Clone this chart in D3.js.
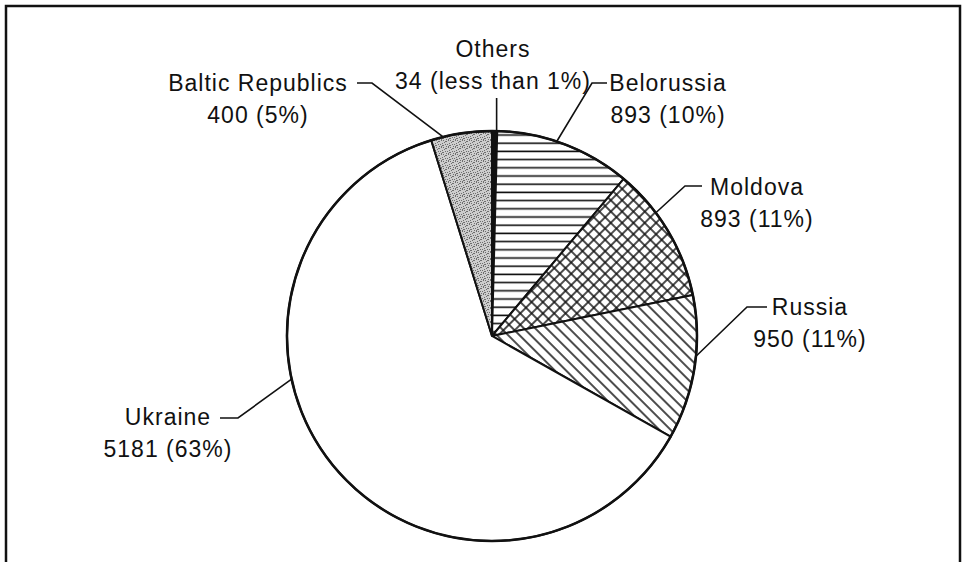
<!DOCTYPE html>
<html>
<head>
<meta charset="utf-8">
<script src="https://cdn.jsdelivr.net/npm/d3@7"></script>
<style>
  body { margin: 0; background: #fff; }
  svg { display: block; }
  .lbl { font-family: "Liberation Sans", Arial, sans-serif; font-size: 23px; letter-spacing: 1px; fill: #111; }
</style>
</head>
<body>
<div id="container"></div>
<script>
// data, clockwise from 12 o'clock
const categories = ['Others', 'Belorussia', 'Moldova', 'Russia', 'Ukraine', 'Baltic Republics']
const values = [34, 893, 893, 950, 5181, 400]
const valueLabels = ['34 (less than 1%)', '893 (10%)', '893 (11%)', '950 (11%)', '5181 (63%)', '400 (5%)']
const patterns = ['solid', 'hlines', 'cross', 'diag', 'none', 'stipple']

// where each label sits (text centre, first baseline), the little dash and where on the slice the leader lands
const labelLayout = [
  {x: 493, y: 57, dash: null, f: 0.5},
  {x: 668, y: 91, dash: [592, 607, 83], f: 0.44},
  {x: 757, y: 195, dash: [685, 702, 186], f: 0.34},
  {x: 810, y: 315, dash: [747, 767, 307], f: 0.42},
  {x: 168, y: 425, dash: [238, 220, 418], f: 0.62},
  {x: 258, y: 91, dash: [372, 357, 83], f: 0.2}
]

const width = 965
const height = 562
const cx = 492, cy = 336, radius = 205

const svg = d3.select('#container').append('svg')
  .attr('width', width)
  .attr('height', height)

svg.append('rect').attr('width', width).attr('height', height).attr('fill', '#fff')

// frame, bottom edge runs off the page
svg.append('path')
  .attr('d', `M6,${height + 5} V6 H960 V${height + 5}`)
  .attr('fill', 'none')
  .attr('stroke', '#111')
  .attr('stroke-width', 2.5)

const defs = svg.append('defs')

const hl = defs.append('pattern').attr('id', 'hlines')
  .attr('patternUnits', 'userSpaceOnUse').attr('width', 8).attr('height', 8.2)
hl.append('rect').attr('width', 8).attr('height', 8.2).attr('fill', '#fff')
hl.append('line').attr('x1', 0).attr('x2', 8).attr('y1', 4).attr('y2', 4)
  .attr('stroke', '#111').attr('stroke-width', 1.6)

const cr = defs.append('pattern').attr('id', 'cross')
  .attr('patternUnits', 'userSpaceOnUse').attr('width', 8).attr('height', 8)
  .attr('patternTransform', 'rotate(45)')
cr.append('rect').attr('width', 8).attr('height', 8).attr('fill', '#fff')
cr.append('line').attr('x1', 0).attr('x2', 8).attr('y1', 4).attr('y2', 4)
  .attr('stroke', '#111').attr('stroke-width', 1.5)
cr.append('line').attr('x1', 4).attr('x2', 4).attr('y1', 0).attr('y2', 8)
  .attr('stroke', '#111').attr('stroke-width', 1.5)

const dg = defs.append('pattern').attr('id', 'diag')
  .attr('patternUnits', 'userSpaceOnUse').attr('width', 8).attr('height', 8)
  .attr('patternTransform', 'rotate(45)')
dg.append('rect').attr('width', 8).attr('height', 8).attr('fill', '#fff')
dg.append('line').attr('x1', 0).attr('x2', 8).attr('y1', 4).attr('y2', 4)
  .attr('stroke', '#111').attr('stroke-width', 1.5)

// grainy grey for the baltic slice
const st = defs.append('pattern').attr('id', 'stipple')
  .attr('patternUnits', 'userSpaceOnUse').attr('width', 7).attr('height', 7)
st.append('rect').attr('width', 7).attr('height', 7).attr('fill', '#cdcdcd')
const dots = [[0, 0], [3, 1], [5, 0], [1, 2], [6, 3], [2, 4], [4, 4], [0, 5], [5, 6], [3, 6], [2, 1], [6, 5]]
st.selectAll('rect.d').data(dots).enter().append('rect')
  .attr('class', 'd')
  .attr('x', d => d[0]).attr('y', d => d[1])
  .attr('width', 1).attr('height', 1)
  .attr('fill', '#6e6e6e')

const fillFor = p => {
  if (p === 'solid') return '#111'
  if (p === 'none') return '#fff'
  return `url(#${p})`
}

const pie = d3.pie().sort(null).value(d => d)
const arcs = pie(values)
const arc = d3.arc().innerRadius(0).outerRadius(radius)

const g = svg.append('g').attr('transform', `translate(${cx},${cy})`)

g.selectAll('path.slice')
  .data(arcs)
  .enter()
  .append('path')
  .attr('class', 'slice')
  .attr('d', arc)
  .attr('fill', (d, i) => fillFor(patterns[i]))
  .attr('stroke', '#111')
  .attr('stroke-width', 2)
  .attr('stroke-linejoin', 'round')

g.append('circle')
  .attr('r', radius)
  .attr('fill', 'none')
  .attr('stroke', '#111')
  .attr('stroke-width', 2.5)

// leader lines
const onRim = (d, f) => {
  const a = d.startAngle + f * (d.endAngle - d.startAngle)
  return [cx + radius * Math.sin(a), cy - radius * Math.cos(a)]
}

arcs.forEach((d, i) => {
  const L = labelLayout[i]
  const p = onRim(d, L.f)
  let path
  if (L.dash) {
    path = `M${L.dash[1]},${L.dash[2]} H${L.dash[0]} L${p[0]},${p[1]}`
  } else {
    path = `M${p[0] + 2},${L.y + 41} L${p[0] + 2},${p[1]}`
  }
  svg.append('path')
    .attr('d', path)
    .attr('fill', 'none')
    .attr('stroke', '#111')
    .attr('stroke-width', 1.6)

  const t = svg.append('text')
    .attr('class', 'lbl')
    .attr('text-anchor', 'middle')
    .attr('x', L.x)
    .attr('y', L.y)
  t.append('tspan').attr('x', L.x).text(categories[i])
  t.append('tspan').attr('x', L.x).attr('dy', 32).text(valueLabels[i])
})
</script>
</body>
</html>
